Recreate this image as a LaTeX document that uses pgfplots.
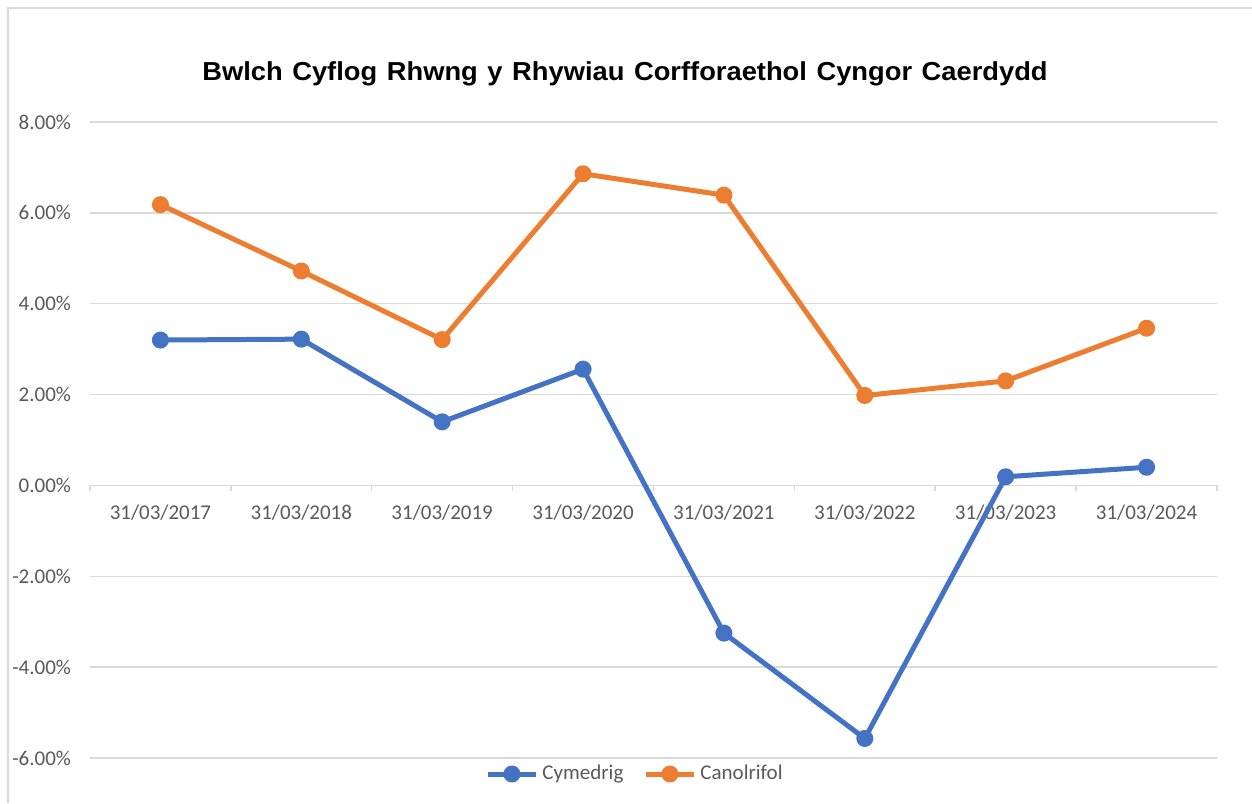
\documentclass[border=0pt]{standalone}
\usepackage{pgfplots}
\pgfplotsset{compat=1.18}
\usepackage{fontspec}
\setmainfont{Carlito}
\newfontfamily\titlefont[FakeStretch=1.05]{Liberation Sans}
\definecolor{cblue}{HTML}{4472C4}
\definecolor{corange}{HTML}{ED7D31}
\definecolor{gridc}{HTML}{D9D9D9}
\definecolor{txt}{HTML}{595959}
\begin{document}
\begin{tikzpicture}
\path[use as bounding box] (0,0) rectangle (626pt,401.5pt);
\draw[gridc, line width=1pt] (4pt,0) -- (4pt,397.5pt) -- (626pt,397.5pt);
\node[font=\titlefont\bfseries\fontsize{13}{15}\selectfont] at (312.5pt,364.5pt) {\spaceskip=4.8pt Bwlch Cyflog Rhwng y Rhywiau Corfforaethol Cyngor Caerdydd};
\begin{axis}[
  at={(45pt,22.5pt)}, anchor=south west,
  scale only axis, width=563.5pt, height=318pt,
  xmin=-0.5, xmax=7.5, ymin=-6, ymax=8,
  axis x line=middle, axis y line=left,
  x axis line style={-, draw=gridc, line width=0.75pt},
  y axis line style={-, draw=none},
  hide obscured x ticks=false, hide obscured y ticks=false,
  xtick={0,...,7},
  xticklabels={31/03/2017,31/03/2018,31/03/2019,31/03/2020,31/03/2021,31/03/2022,31/03/2023,31/03/2024},
  minor xtick={-0.5,0.5,...,7.5},
  major tick length=0pt, minor tick length=3pt,
  xtick align=outside,
  minor x tick style={draw=gridc, line width=0.75pt},
  xticklabel style={font=\fontsize{10.5}{12}\selectfont, text=txt, yshift=-6pt},
  ytick={-6,-4,-2,0,2,4,6,8},
  yticklabels={-6.00\%,-4.00\%,-2.00\%,0.00\%,2.00\%,4.00\%,6.00\%,8.00\%},
  ytick style={draw=none},
  yticklabel style={font=\fontsize{10.5}{12}\selectfont, text=txt, xshift=-6pt},
  ymajorgrids, major grid style={draw=gridc, line width=0.75pt},
  clip=false,
  legend columns=2,
  legend style={draw=none, fill=none, at={(0.4845,-0.0252)}, anchor=center,
    font=\fontsize{10.5}{12}\selectfont, text=txt,
    /tikz/every even column/.append style={column sep=8pt}},
  legend image code/.code={\draw[#1, mark repeat=2, mark phase=2] plot coordinates {(0pt,0pt) (12pt,0pt) (24pt,0pt)};},
]
\addplot[cblue, line width=2.5pt, line join=round, mark=*, mark size=3pt, mark options={solid}] coordinates {
(0,3.20) (1,3.22) (2,1.40) (3,2.56) (4,-3.25) (5,-5.57) (6,0.19) (7,0.40)};
\addlegendentry{Cymedrig}
\addplot[corange, line width=2.5pt, line join=round, mark=*, mark size=3pt, mark options={solid}] coordinates {
(0,6.18) (1,4.72) (2,3.21) (3,6.86) (4,6.39) (5,1.98) (6,2.30) (7,3.46)};
\addlegendentry{Canolrifol}
\end{axis}
\end{tikzpicture}
\end{document}
